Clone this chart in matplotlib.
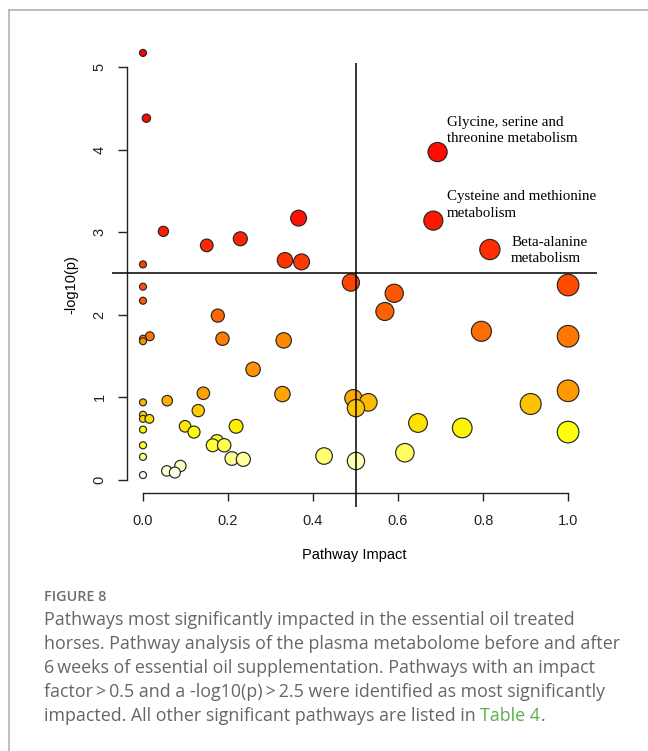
import colorsys
import numpy as np
import matplotlib.pyplot as plt
from matplotlib.lines import Line2D

# pathway impact vs. -log10(p), sorted from most to least significant
impact = [0.000, 0.008, 0.693, 0.366, 0.683, 0.048, 0.229, 0.150, 0.816, 0.334,
          0.373, 0.000, 0.489, 1.000, 0.000, 0.591, 0.000, 0.569, 0.176, 0.796,
          0.016, 1.000, 0.187, 0.000, 0.331, 0.000, 0.259, 1.000, 0.142, 0.328,
          0.495, 0.057, 0.000, 0.530, 0.912, 0.501, 0.130, 0.000, 0.000, 0.015,
          0.647, 0.099, 0.219, 0.751, 0.000, 0.120, 1.000, 0.174, 0.000, 0.164,
          0.191, 0.616, 0.426, 0.000, 0.209, 0.236, 0.501, 0.088, 0.056, 0.075,
          0.000]
neg_log_p = [5.17, 4.38, 3.97, 3.17, 3.14, 3.01, 2.92, 2.84, 2.79, 2.66,
             2.64, 2.61, 2.39, 2.36, 2.34, 2.26, 2.17, 2.04, 1.99, 1.80,
             1.74, 1.74, 1.71, 1.71, 1.69, 1.68, 1.34, 1.08, 1.05, 1.04,
             0.99, 0.96, 0.94, 0.94, 0.92, 0.87, 0.84, 0.79, 0.74, 0.74,
             0.69, 0.65, 0.65, 0.63, 0.61, 0.58, 0.58, 0.47, 0.42, 0.42,
             0.42, 0.33, 0.29, 0.28, 0.26, 0.25, 0.23, 0.17, 0.11, 0.09,
             0.06]

impact_cut = 0.5
p_cut = 2.5

caption_title = "FIGURE 8"
caption_lines = [
    "Pathways most significantly impacted in the essential oil treated",
    "horses. Pathway analysis of the plasma metabolome before and after",
    "6\u2009weeks of essential oil supplementation. Pathways with an impact",
    "factor\u2009>\u20090.5 and a -log10(p)\u2009>\u20092.5 were identified as most significantly",
]
caption_last = "impacted. All other significant pathways are listed in "
caption_link = "Table 4"


def heat_colors(n):
    """same ramp as R's heat.colors: red -> yellow, then yellow -> white"""
    j = n // 4
    i = n - j
    cols = [colorsys.hsv_to_rgb(h, 1, 1) for h in np.linspace(0, 1 / 6, i)]
    if j > 0:
        sats = np.linspace(1 - 1 / (2 * j), 1 / (2 * j), j)
        cols += [colorsys.hsv_to_rgb(1 / 6, s, 1) for s in sats]
    return cols


x = np.array(impact)
y = np.array(neg_log_p)
colors = heat_colors(len(x))
# circle radius in pixels grows with impact
radius = 3.5 + 7.3 * np.sqrt(x)
sizes = (2 * radius * 0.72) ** 2

fig = plt.figure(figsize=(6.48, 7.51), dpi=100)
W, H = 648, 751
ax = fig.add_axes([112 / W, 1 - 507 / H, (597 - 112) / W, (507 - 63) / H])
ax.set_xlim(-0.0729, 1.068)
ax.set_ylim(-0.327, 5.048)

ax.scatter(x, y, s=sizes, c=colors, edgecolors="#262626", linewidths=0.85,
           zorder=2, clip_on=False)
ax.axvline(impact_cut, color="black", lw=1.1, zorder=3)
ax.axhline(p_cut, color="black", lw=1.1, zorder=3)

# labels for the three pathways passing both cut-offs
serif = "Liberation Serif"
ax.text(0.715, 4.23, "Glycine, serine and\nthreonine metabolism", fontsize=10.8,
        family=serif, va="center", ha="left", linespacing=1.35)
ax.text(0.715, 3.33, "Cysteine and methionine\nmetabolism", fontsize=10.8,
        family=serif, va="center", ha="left", linespacing=1.35)
ax.text(0.866, 2.78, "Beta-alanine\nmetabolism", fontsize=10.8,
        family=serif, va="center", ha="left", linespacing=1.35)

# R style axes: lines only across the tick range
for side in ["top", "right"]:
    ax.spines[side].set_visible(False)
ax.spines["left"].set_position(("data", -0.0365))
ax.spines["left"].set_bounds(0, 5)
ax.spines["bottom"].set_position(("data", -0.154))
ax.spines["bottom"].set_bounds(0, 1)
for side in ["left", "bottom"]:
    ax.spines[side].set_linewidth(1.0)
    ax.spines[side].set_color("#222222")

ax.set_xticks([0.0, 0.2, 0.4, 0.6, 0.8, 1.0])
ax.set_xticklabels(["0.0", "0.2", "0.4", "0.6", "0.8", "1.0"])
ax.set_yticks([0, 1, 2, 3, 4, 5])
ax.set_yticklabels(["0", "1", "2", "3", "4", "5"])
ax.tick_params(axis="x", length=5.5, width=1, pad=9.5, labelsize=10.5,
               colors="#222222")
ax.tick_params(axis="y", length=6.5, width=1, pad=8.5, labelsize=10.5,
               colors="#222222")
plt.setp(ax.get_yticklabels(), rotation=90, va="center", family="Liberation Sans")
plt.setp(ax.get_xticklabels(), family="Liberation Sans")

ax.set_xlabel("Pathway Impact", fontsize=10.5, family="Liberation Sans", labelpad=15)
ax.set_ylabel("-log10(p)", fontsize=10.5, family="Liberation Sans", labelpad=10.5)

# page frame
frame = "#b4b4b4"
fig.add_artist(Line2D([9 / W, 1], [1 - 9.5 / H, 1 - 9.5 / H], color=frame, lw=1.2))
fig.add_artist(Line2D([9 / W, 9 / W], [0, 1 - 9.5 / H], color=frame, lw=1.2))

# caption
cap_font = "Open Sans"
cap_color = "#666666"
cap_size = 12.85
fig.text(44 / W, 1 - 597 / H, caption_title, fontsize=10.4, family=cap_font,
         weight="semibold", color="#6e6e6e", va="center")
line_y = [620, 644, 668, 692]
for txt, yy in zip(caption_lines, line_y):
    fig.text(44 / W, 1 - yy / H, txt, fontsize=cap_size, family=cap_font,
             color=cap_color, va="center")
last = fig.text(44 / W, 1 - 716 / H, caption_last, fontsize=cap_size,
                family=cap_font, color=cap_color, va="center")
fig.canvas.draw()
bb = last.get_window_extent(fig.canvas.get_renderer())
link = fig.text(bb.x1 / fig.bbox.width, 1 - 716 / H, caption_link,
                fontsize=cap_size, family=cap_font, color="#5ab04a", va="center")
fig.canvas.draw()
bb2 = link.get_window_extent(fig.canvas.get_renderer())
fig.text(bb2.x1 / fig.bbox.width, 1 - 716 / H, ".", fontsize=cap_size,
         family=cap_font, color=cap_color, va="center")

fig.savefig("out.png", dpi=100)
